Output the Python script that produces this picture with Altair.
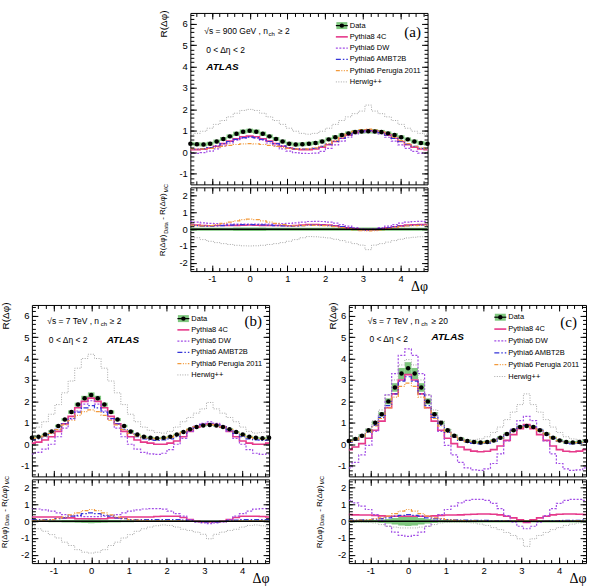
import math
import pandas as pd
import altair as alt

FONT = "Liberation Sans"
SERIF = "Liberation Serif"
GREEN = "#7fc77f"

W, HM, HR = 238, 172, 84
XDOM = [-math.pi / 2, 3 * math.pi / 2]
YDOM_MAIN = [-1.5, 6.5]
YDOM_DIFF = [-2.5, 2.5]

# bin centres (degrees); values are read for 0..180 deg, the plot shows the
# symmetric range -90..270 deg
DEG_HALF = list(range(0, 181, 10))
DEG_FULL = list(range(-90, 271, 10))
BIN_HALF_DEG = 5

X_MAJOR = [-1, 0, 1, 2, 3, 4]
X_MINOR = [round(-1.4 + 0.2 * i, 1) for i in range(31)]
Y_MAIN_MAJOR = [-1, 0, 1, 2, 3, 4, 5, 6]
Y_MAIN_MINOR = [round(-1.4 + 0.2 * i, 1) for i in range(40)]
Y_DIFF_MAJOR = [-2, -1, 0, 1, 2]
Y_DIFF_MINOR = [round(-2.4 + 0.2 * i, 1) for i in range(25)]

SERIES = ["Pythia8 4C", "Pythia6 DW", "Pythia6 AMBT2B", "Pythia6 Perugia 2011", "Herwig++"]
STYLE = {
    "Pythia8 4C": dict(color="#e6398a", dash=None, width=1.6),
    "Pythia6 DW": dict(color="#a24ee6", dash=[2, 1.5], width=1.2),
    "Pythia6 AMBT2B": dict(color="#3535d8", dash=[5, 2, 1.5, 2], width=1.2),
    "Pythia6 Perugia 2011": dict(color="#f29a3c", dash=[4, 1.5, 1, 1.5, 1, 1.5], width=1.2),
    "Herwig++": dict(color="#a6a6a6", dash=[1, 1.5], width=1.0),
}

# ---------------- panel (a): 900 GeV, nch >= 2 ----------------
A_DATA = [1.00, 0.96, 0.86, 0.74, 0.62, 0.50, 0.40, 0.36, 0.37, 0.40, 0.43, 0.50, 0.60, 0.70, 0.80, 0.88, 0.94, 0.97, 0.98]
A_ERR = [0.10, 0.10, 0.10, 0.09, 0.09, 0.09, 0.09, 0.09, 0.09, 0.09, 0.09, 0.09, 0.09, 0.09, 0.09, 0.09, 0.10, 0.10, 0.10]
A_P8 = [0.75, 0.72, 0.63, 0.52, 0.40, 0.28, 0.19, 0.14, 0.12, 0.12, 0.15, 0.23, 0.35, 0.50, 0.65, 0.80, 0.92, 1.00, 1.03]
A_DW = [0.70, 0.66, 0.56, 0.43, 0.30, 0.16, 0.05, -0.02, -0.05, -0.06, -0.04, 0.04, 0.18, 0.34, 0.52, 0.70, 0.85, 0.94, 0.97]
A_AMBT = [0.72, 0.68, 0.60, 0.50, 0.40, 0.30, 0.22, 0.17, 0.15, 0.15, 0.18, 0.27, 0.38, 0.51, 0.65, 0.80, 0.92, 1.00, 1.03]
A_PER = [0.40, 0.39, 0.36, 0.32, 0.27, 0.22, 0.18, 0.16, 0.15, 0.16, 0.20, 0.28, 0.40, 0.54, 0.70, 0.85, 0.98, 1.06, 1.08]
A_HW = [2.00, 1.95, 1.82, 1.65, 1.48, 1.30, 1.12, 0.98, 0.88, 0.84, 0.88, 0.98, 1.12, 1.30, 1.48, 1.65, 1.80, 1.92, 2.20]

# ---------------- panel (b): 7 TeV, nch >= 2 ----------------
B_DATA = [2.30, 2.15, 1.85, 1.50, 1.15, 0.85, 0.60, 0.45, 0.35, 0.30, 0.28, 0.30, 0.35, 0.45, 0.57, 0.70, 0.80, 0.87, 0.90]
B_ERR = [0.12, 0.11, 0.09, 0.08, 0.07, 0.06, 0.06, 0.05, 0.05, 0.05, 0.05, 0.05, 0.05, 0.05, 0.05, 0.05, 0.05, 0.05, 0.05]
B_P8 = [2.15, 2.00, 1.70, 1.30, 0.95, 0.60, 0.35, 0.20, 0.10, 0.05, 0.00, 0.00, 0.05, 0.15, 0.35, 0.60, 0.80, 0.92, 0.95]
B_DW = [2.03, 1.87, 1.55, 1.17, 0.75, 0.35, 0.00, -0.23, -0.38, -0.45, -0.47, -0.42, -0.25, 0.00, 0.27, 0.60, 0.85, 0.97, 1.04]
B_AMBT = [1.80, 1.70, 1.50, 1.20, 0.95, 0.70, 0.50, 0.35, 0.25, 0.20, 0.18, 0.20, 0.25, 0.35, 0.50, 0.68, 0.82, 0.92, 0.95]
B_PER = [1.60, 1.52, 1.35, 1.12, 0.90, 0.68, 0.50, 0.38, 0.30, 0.27, 0.25, 0.27, 0.32, 0.42, 0.55, 0.70, 0.82, 0.90, 0.93]
B_HW = [4.20, 4.00, 3.55, 2.95, 2.40, 1.85, 1.40, 1.05, 0.80, 0.65, 0.55, 0.52, 0.60, 0.80, 1.05, 1.25, 1.45, 1.65, 1.95]

# ---------------- panel (c): 7 TeV, nch >= 20 ----------------
C_DATA = [3.55, 3.30, 2.65, 2.00, 1.40, 1.00, 0.65, 0.40, 0.25, 0.15, 0.10, 0.08, 0.10, 0.17, 0.30, 0.48, 0.65, 0.80, 0.85]
C_ERR = [0.28, 0.26, 0.20, 0.14, 0.10, 0.08, 0.07, 0.07, 0.07, 0.07, 0.07, 0.07, 0.07, 0.07, 0.07, 0.07, 0.07, 0.07, 0.07]
C_P8 = [3.25, 3.00, 2.35, 1.70, 1.08, 0.65, 0.28, 0.03, -0.13, -0.25, -0.32, -0.35, -0.33, -0.25, -0.08, 0.18, 0.45, 0.72, 0.92]
C_DW = [4.45, 4.15, 3.30, 2.30, 1.35, 0.60, -0.05, -0.50, -0.85, -1.10, -1.20, -1.22, -1.15, -0.90, -0.45, 0.15, 0.70, 1.10, 1.30]
C_AMBT = [3.15, 2.95, 2.35, 1.80, 1.25, 0.88, 0.55, 0.32, 0.18, 0.08, 0.04, 0.02, 0.05, 0.13, 0.27, 0.45, 0.65, 0.80, 0.87]
C_PER = [2.85, 2.70, 2.20, 1.70, 1.20, 0.85, 0.55, 0.33, 0.20, 0.12, 0.08, 0.07, 0.09, 0.16, 0.30, 0.47, 0.64, 0.78, 0.84]
C_HW = [3.95, 3.70, 3.00, 2.30, 1.60, 1.10, 0.72, 0.45, 0.30, 0.22, 0.20, 0.25, 0.35, 0.55, 0.80, 1.15, 1.50, 1.85, 2.35]

PANELS = [
    dict(data=A_DATA, err=A_ERR, mc=[A_P8, A_DW, A_AMBT, A_PER, A_HW],
         label="(a)", label_x=223, label_y=19,
         energy="√s = 900 GeV , n", e_x=14, e_y=18.3, ch_x=78.5, ge="≥ 2", ge_x=88,
         eta_x=16, eta_y=36.7, atlas_x=16, atlas_y=54.7,
         ytitle_x=-27, dtitle_x=-27, leg_y0=12.7, leg_dy=11.3),
    dict(data=B_DATA, err=B_ERR, mc=[B_P8, B_DW, B_AMBT, B_PER, B_HW],
         label="(b)", label_x=222, label_y=16.3,
         energy="√s = 7 TeV , n", e_x=15.4, e_y=16.3, ch_x=69, ge="≥ 2", ge_x=78,
         eta_x=17, eta_y=35.3, atlas_x=75, atlas_y=35.3,
         ytitle_x=-26, dtitle_x=-27, leg_y0=13.7, leg_dy=11.3),
    dict(data=C_DATA, err=C_ERR, mc=[C_P8, C_DW, C_AMBT, C_PER, C_HW],
         label="(c)", label_x=220.5, label_y=17,
         energy="√s = 7 TeV , n", e_x=19, e_y=16.3, ch_x=72.8, ge="≥ 20", ge_x=83,
         eta_x=20.7, eta_y=33.7, atlas_x=83, atlas_y=32.3,
         ytitle_x=-16, dtitle_x=-29, leg_y0=12.3, leg_dy=11.9),
]

ONE = pd.DataFrame({"k": [0]})
XY0 = pd.DataFrame({"x": [0.0], "y": [0.0]})
MINUS = "replace(datum.label, '\u2212', '-')"


def unfold(half):
    out = []
    for d in DEG_FULL:
        r = abs(d) if d <= 180 else 360 - d
        out.append(half[DEG_HALF.index(r)])
    return out


def xscale():
    return alt.Scale(domain=XDOM, nice=False, zero=False)


def yscale(dom):
    return alt.Scale(domain=dom, nice=False, zero=False)


def txt(text, x, y, size, font=FONT, weight="normal", style="normal", align="left", angle=0):
    return alt.Chart(ONE).mark_text(
        text=text, align=align, baseline="middle", font=font, fontSize=size,
        fontWeight=weight, fontStyle=style, angle=angle, color="black"
    ).encode(x=alt.value(x), y=alt.value(y))


def hline(x1, x2, y, color, width, dash=None):
    mk = dict(color=color, strokeWidth=width)
    if dash:
        mk["strokeDash"] = dash
    return alt.Chart(ONE).mark_rule(**mk).encode(x=alt.value(x1), x2=alt.value(x2), y=alt.value(y))


def axis_layers(ydom, ymaj, ymin, xlabels, ytitle_kw=None, xtitle_kw=None):
    base_kw = dict(domain=False, grid=False, tickColor="black", tickWidth=1,
                   minExtent=0, labelFlush=False, zindex=1)

    def ax(orient, values, size, labels=False, extra=None):
        kw = dict(base_kw, orient=orient, values=values, tickSize=size, offset=-size,
                  labels=labels, title=None)
        if labels:
            kw.update(labelFont=FONT, labelFontSize=9.5, labelColor="black",
                      labelPadding=3 if orient in ("left", "right") else 2, labelExpr=MINUS)
        if extra:
            kw.update(extra)
        return alt.Axis(**kw)

    specs = [
        (ax("left", ymaj, 6, True, ytitle_kw), ax("bottom", X_MAJOR, 6, xlabels, xtitle_kw)),
        (ax("left", ymin, 3.5), ax("bottom", X_MINOR, 3.5)),
        (ax("right", ymaj, 6), ax("top", X_MAJOR, 6)),
        (ax("right", ymin, 3.5), ax("top", X_MINOR, 3.5)),
    ]
    layers = []
    for yax, xax in specs:
        layers.append(alt.Chart(XY0).mark_point(opacity=0, size=1).encode(
            x=alt.X("x:Q", scale=xscale(), axis=xax),
            y=alt.Y("y:Q", scale=yscale(ydom), axis=yax)))
    return layers


def build_panel(p):
    xc = [d * math.pi / 180 for d in DEG_FULL]
    hw = BIN_HALF_DEG * math.pi / 180
    data = unfold(p["data"])
    err = unfold(p["err"])
    ddf = pd.DataFrame({
        "x": xc,
        "xlo": [max(x - hw, XDOM[0]) for x in xc],
        "xhi": [min(x + hw, XDOM[1]) for x in xc],
        "v": data,
        "lo": [d - e for d, e in zip(data, err)],
        "hi": [d + e for d, e in zip(data, err)],
        "elo": [-e for e in err],
        "ehi": [e for e in err],
        "zero": [d - d for d in data],
    })
    mdfs = {}
    for name, half in zip(SERIES, p["mc"]):
        mc = unfold(half)
        mdfs[name] = pd.DataFrame({"x": xc, "v": mc, "diff": [d - m for d, m in zip(data, mc)]})

    def X(f):
        return alt.X(f, type="quantitative", scale=xscale(), axis=None)

    def YM(f):
        return alt.Y(f, type="quantitative", scale=yscale(YDOM_MAIN), axis=None)

    def YD(f):
        return alt.Y(f, type="quantitative", scale=yscale(YDOM_DIFF), axis=None)

    # ---------------- main pad ----------------
    main_layers = [alt.Chart(ddf).mark_rect(color=GREEN).encode(
        x=X("xlo"), x2=alt.X2("xhi"), y=YM("lo"), y2=alt.Y2("hi"))]
    for name in SERIES:
        st = STYLE[name]
        mk = dict(interpolate="step", color=st["color"], strokeWidth=st["width"])
        if st["dash"]:
            mk["strokeDash"] = st["dash"]
        main_layers.append(alt.Chart(mdfs[name]).mark_line(**mk).encode(x=X("x"), y=YM("v")))
    main_layers.append(alt.Chart(ddf).mark_circle(color="black", size=20, opacity=1).encode(
        x=X("x"), y=YM("v")))

    # annotations
    main_layers += [
        txt(p["energy"], p["e_x"], p["e_y"], 8.5),
        txt("ch", p["ch_x"], p["e_y"] + 2.6, 6),
        txt(p["ge"], p["ge_x"], p["e_y"], 8.5),
        txt("0 < Δη < 2", p["eta_x"], p["eta_y"], 8.5),
        txt("ATLAS", p["atlas_x"], p["atlas_y"], 10, weight="bold", style="italic"),
        txt(p["label"], p["label_x"], p["label_y"], 15, font=SERIF, align="center"),
    ]
    # legend
    y0, dy = p["leg_y0"], p["leg_dy"]
    lx1, lx2, tx = 146, 158, 160
    main_layers.append(alt.Chart(ONE).mark_rect(color=GREEN).encode(
        x=alt.value(lx1 + 0.5), x2=alt.value(lx2 - 0.5), y=alt.value(y0 - 3.5), y2=alt.value(y0 + 3.5)))
    main_layers.append(hline(lx1, lx2, y0, "black", 1.2))
    main_layers.append(alt.Chart(ONE).mark_circle(color="black", size=20, opacity=1).encode(
        x=alt.value((lx1 + lx2) / 2), y=alt.value(y0)))
    main_layers.append(txt("Data", tx, y0, 7.5))
    for i, name in enumerate(SERIES):
        st = STYLE[name]
        yy = y0 + dy * (i + 1)
        main_layers.append(hline(lx1, lx2, yy, st["color"], st["width"], st["dash"]))
        main_layers.append(txt(name, tx, yy, 7.5))

    ytitle_kw = dict(title="R(Δφ)", titleFont=FONT, titleFontSize=10, titleFontWeight="normal",
                     titleColor="black", titleAngle=270, titleAlign="right", titleBaseline="middle",
                     titleX=p["ytitle_x"] - 6, titleY=-3)
    main_layers += axis_layers(YDOM_MAIN, Y_MAIN_MAJOR, Y_MAIN_MINOR, False, ytitle_kw)
    main = alt.layer(*main_layers).resolve_axis(x="independent", y="independent").properties(
        width=W, height=HM)

    # ---------------- difference pad ----------------
    diff_layers = [alt.Chart(ddf).mark_area(color=GREEN, interpolate="step", opacity=1).encode(
        x=X("x"), y=YD("elo"), y2=alt.Y2("ehi"))]
    for name in SERIES:
        st = STYLE[name]
        mk = dict(interpolate="step", color=st["color"], strokeWidth=st["width"])
        if st["dash"]:
            mk["strokeDash"] = st["dash"]
        diff_layers.append(alt.Chart(mdfs[name]).mark_line(**mk).encode(x=X("x"), y=YD("diff")))
    diff_layers.append(alt.Chart(ddf).mark_line(color="black", strokeWidth=1.5).encode(
        x=X("x"), y=YD("zero")))

    # rotated y title with subscripts
    dx = p["dtitle_x"]
    diff_layers += [
        txt("R(Δφ)", dx, 69, 8, angle=270),
        txt("Data", dx + 2.4, 46.6, 5.5, angle=270),
        txt("- R(Δφ)", dx, 32.6, 8, angle=270),
        txt("MC", dx + 2.4, 5.2, 5.5, angle=270),
    ]
    xtitle_kw = dict(title="Δφ", titleFont=SERIF, titleFontSize=14, titleFontWeight="normal",
                     titleColor="black", titleAngle=0, titleAlign="right", titleBaseline="bottom",
                     titleX=W, titleY=28)
    diff_layers += axis_layers(YDOM_DIFF, Y_DIFF_MAJOR, Y_DIFF_MINOR, True, None, xtitle_kw)
    diff = alt.layer(*diff_layers).resolve_axis(x="independent", y="independent").properties(
        width=W, height=HR)

    return alt.vconcat(main, diff, spacing=-2)


panel_a, panel_b, panel_c = [build_panel(p) for p in PANELS]

spacer = alt.Chart(ONE).mark_point(opacity=0, size=1).encode(
    x=alt.value(5), y=alt.value(5)).properties(
    width=125, height=10, view=alt.ViewBackground(stroke="transparent"))

top = alt.hconcat(spacer, panel_a, spacing=0)
bottom = alt.hconcat(panel_b, panel_c, spacing=42)
chart = alt.vconcat(top, bottom, spacing=7).properties(
    padding={"left": 0, "top": 8, "right": 0, "bottom": 0}
).configure_view(stroke="black", strokeWidth=1)

chart.save("out.html", embed_options={"renderer": "svg", "actions": False})
